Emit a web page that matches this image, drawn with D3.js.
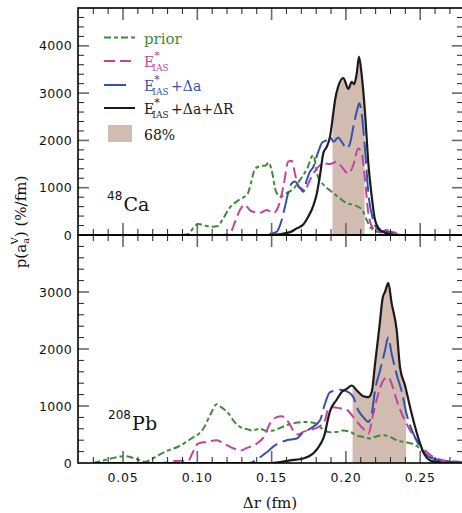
<!DOCTYPE html>
<html>
<head>
<meta charset="utf-8">
<script src="https://cdn.jsdelivr.net/npm/d3@7/dist/d3.min.js"></script>
<style>
  html, body { margin: 0; padding: 0; background: #fff; }
  svg { display: block; }
</style>
</head>
<body>
<svg id="chart" width="462" height="513"></svg>
<script>
// ---- 48Ca panel: probability density p(a_a^V) in %/fm vs Δr (fm) ----
const caPrior = [[0.090,0],[0.094,20],[0.098,180],[0.101,230],[0.105,200],[0.109,175],[0.114,190],[0.117,330],
  [0.122,585],[0.128,740],[0.134,880],[0.136,1090],[0.139,1410],[0.143,1460],[0.146,1470],[0.148,1530],
  [0.150,1375],[0.153,915],[0.156,810],[0.160,880],[0.165,990],[0.169,1160],[0.174,1410],[0.178,1690],
  [0.181,1250],[0.185,1060],[0.189,950],[0.195,800],[0.200,680],[0.206,630],[0.211,530],[0.214,317],
  [0.217,140],[0.221,70],[0.228,35],[0.233,0]];
const caIAS = [[0.092,0],[0.116,0],[0.120,10],[0.122,35],[0.1254,280],[0.1287,530],[0.1320,640],[0.1355,520],
  [0.1388,480],[0.1422,470],[0.1467,530],[0.1511,460],[0.1545,600],[0.1579,1020],[0.1612,1550],[0.1635,1570],
  [0.1657,1300],[0.1680,1020],[0.1703,980],[0.1725,930],[0.1747,1090],[0.1781,1300],[0.1814,1440],
  [0.1848,1515],[0.1893,1500],[0.1938,1550],[0.1972,1440],[0.2016,1300],[0.2050,1480],[0.2083,1830],
  [0.2106,1730],[0.2129,1160],[0.2151,460],[0.2184,140],[0.2230,70],[0.2275,105],[0.2319,70],[0.2353,0]];
const caIASda = [[0.092,0],[0.145,0],[0.1500,30],[0.1534,70],[0.1568,317],[0.1590,600],[0.1612,900],
  [0.1635,1090],[0.1657,1130],[0.1691,990],[0.1713,915],[0.1736,1160],[0.1758,1340],[0.1781,1440],
  [0.1803,1655],[0.1826,1865],[0.1837,1940],[0.1871,2010],[0.1893,2080],[0.1916,1970],[0.1949,2060],
  [0.1972,1970],[0.2005,1830],[0.2028,1940],[0.2050,2290],[0.2073,2610],[0.2090,2785],[0.2106,2570],
  [0.2129,1800],[0.2151,880],[0.2184,317],[0.2218,105],[0.2252,70],[0.2297,70],[0.2342,0]];
const caFull = [[0.092,0],[0.150,0],[0.1624,60],[0.1669,140],[0.1713,220],[0.1747,390],[0.1781,620],
  [0.1803,860],[0.1826,1270],[0.1848,1730],[0.1871,1865],[0.1893,2080],[0.1916,2600],[0.1927,2855],
  [0.1949,3150],[0.1983,3320],[0.2016,3090],[0.2039,3240],[0.2055,3190],[0.2073,3420],[0.2088,3770],
  [0.2106,3390],[0.2129,2570],[0.2151,1515],[0.2174,810],[0.2196,317],[0.2230,105],[0.2275,35],[0.2342,0]];
const caBand = [0.191, 0.2126];

// ---- 208Pb panel ----
const pbPrior = [[0.030,0],[0.036,40],[0.042,80],[0.051,120],[0.058,80],[0.065,20],[0.070,80],[0.074,140],
  [0.080,215],[0.087,285],[0.096,430],[0.104,600],[0.109,860],[0.113,1030],[0.116,980],[0.121,870],
  [0.125,720],[0.129,630],[0.134,590],[0.137,570],[0.142,600],[0.147,560],[0.151,570],[0.157,630],
  [0.162,680],[0.168,710],[0.174,720],[0.180,690],[0.185,580],[0.189,540],[0.194,545],[0.198,570],
  [0.203,545],[0.207,485],[0.212,455],[0.216,430],[0.221,470],[0.225,485],[0.230,455],[0.234,400],
  [0.241,360],[0.247,310],[0.250,250],[0.254,135],[0.259,75],[0.266,35],[0.275,20],[0.279,0]];
const pbIAS = [[0.030,0],[0.076,0],[0.085,35],[0.094,45],[0.097,190],[0.1005,340],[0.106,370],[0.113,400],
  [0.118,340],[0.125,250],[0.130,225],[0.133,260],[0.140,340],[0.1444,445],[0.1489,690],[0.1534,805],
  [0.1568,820],[0.1612,720],[0.1646,570],[0.168,500],[0.1713,545],[0.1758,585],[0.1814,630],[0.1859,750],
  [0.1882,955],[0.1915,980],[0.196,960],[0.2005,935],[0.205,805],[0.2095,660],[0.2129,570],[0.2151,515],
  [0.2184,865],[0.2218,1215],[0.2252,1450],[0.2285,1505],[0.2308,1390],[0.2342,1100],[0.2376,865],
  [0.242,630],[0.2476,400],[0.2532,220],[0.2588,105],[0.2678,35],[0.2768,20],[0.279,0]];
const pbIASda = [[0.030,0],[0.135,0],[0.1411,80],[0.1467,190],[0.1523,310],[0.1602,400],[0.1669,430],
  [0.1703,515],[0.1758,600],[0.1826,750],[0.1859,1040],[0.1893,1245],[0.1938,1275],[0.196,1285],
  [0.2016,1245],[0.205,1155],[0.2083,925],[0.2117,805],[0.2151,720],[0.2174,865],[0.2196,1275],
  [0.223,1625],[0.2263,1975],[0.2285,2205],[0.2308,1915],[0.2342,1550],[0.2376,1250],[0.2409,850],
  [0.2454,515],[0.2499,280],[0.2544,135],[0.2611,60],[0.270,20],[0.279,0]];
const pbFull = [[0.030,0],[0.150,0],[0.1624,45],[0.1713,80],[0.1781,170],[0.1826,320],[0.1859,520],
  [0.1871,670],[0.1893,910],[0.1938,1110],[0.1972,1245],[0.2005,1300],[0.2039,1360],[0.2073,1275],
  [0.2117,1170],[0.2151,1155],[0.2174,1250],[0.2196,1740],[0.2225,2380],[0.2248,2905],[0.2263,3000],
  [0.2285,3160],[0.2308,2800],[0.2342,2325],[0.2364,1680],[0.2398,1360],[0.2432,980],[0.2465,640],
  [0.2499,340],[0.2532,135],[0.2566,45],[0.2611,20],[0.270,0]];
const pbBand = [0.2045, 0.2405];

// ---- axes ----
const xTickLabels = [0.05, 0.10, 0.15, 0.20, 0.25];
const caYTicks = [0, 1000, 2000, 3000, 4000];
const pbYTicks = [0, 1000, 2000, 3000];

const colors = { prior: "#3f8a3a", ias: "#c1449c", da: "#3352ad", full: "#1b1b1b", band: "#d2bbb1" };
const dashes = { prior: "7,3,4,3", ias: "11,5", da: "22,6", full: null };

const svg = d3.select("#chart");
const left = 78, right = 463;
const x = d3.scaleLinear().domain([0.0197, 0.2788]).range([left, right]);

const panels = [
  { id: "ca", top: 8, bottom: 235, ymax: 4800, ticks: caYTicks,
    series: [["prior", caPrior], ["ias", caIAS], ["da", caIASda], ["full", caFull]], band: caBand, full: caFull },
  { id: "pb", top: 235, bottom: 463, ymax: 4000, ticks: pbYTicks,
    series: [["prior", pbPrior], ["ias", pbIAS], ["da", pbIASda], ["full", pbFull]], band: pbBand, full: pbFull }
];

function interp(data, xv) {
  for (let i = 1; i < data.length; i++) {
    if (data[i][0] >= xv) {
      const [x0, y0] = data[i - 1], [x1, y1] = data[i];
      return y0 + (y1 - y0) * (xv - x0) / (x1 - x0);
    }
  }
  return 0;
}

const sansTick = "'DejaVu Sans', sans-serif";
const serif = "'DejaVu Serif', serif";

panels.forEach(p => {
  const y = d3.scaleLinear().domain([0, p.ymax]).range([p.bottom, p.top]);
  const g = svg.append("g");

  svg.append("clipPath").attr("id", "clip-" + p.id)
    .append("rect").attr("x", left).attr("y", p.top).attr("width", right - left).attr("height", p.bottom - p.top);
  const plot = g.append("g").attr("clip-path", `url(#clip-${p.id})`);

  // 68% credible band under the full curve
  const [a, b] = p.band;
  const bandPts = [[a, interp(p.full, a)]]
    .concat(p.full.filter(d => d[0] > a && d[0] < b))
    .concat([[b, interp(p.full, b)]]);
  plot.append("path")
    .attr("d", d3.area().x(d => x(d[0])).y0(y(0)).y1(d => y(d[1])).curve(d3.curveMonotoneX)(bandPts))
    .attr("fill", colors.band);

  const line = d3.line().x(d => x(d[0])).y(d => y(d[1])).curve(d3.curveMonotoneX);
  p.series.forEach(([key, data]) => {
    plot.append("path").attr("d", line(data))
      .attr("fill", "none").attr("stroke", colors[key])
      .attr("stroke-width", key === "full" ? 2.2 : 2)
      .attr("stroke-dasharray", dashes[key])
      .attr("stroke-linejoin", "round");
  });

  // ticks on all four sides, pointing inward
  const tg = g.append("g");
  d3.range(3, 28).forEach(i => {
    const v = i / 100, major = i % 5 === 0, len = major ? 12 : 6;
    [[p.bottom, -len], [p.top, len]].forEach(([yy, d]) => {
      tg.append("line").attr("x1", x(v)).attr("x2", x(v)).attr("y1", yy).attr("y2", yy + d)
        .attr("stroke", major ? "#6a6a6a" : "#222").attr("stroke-width", major ? 1.6 : 1);
    });
  });
  d3.range(200, p.ymax, 200).forEach(v => {
    const major = v % 1000 === 0, len = major ? 11 : 6;
    [[left, len], [right, -len]].forEach(([xx, d]) => {
      tg.append("line").attr("x1", xx).attr("x2", xx + d).attr("y1", y(v)).attr("y2", y(v))
        .attr("stroke", major ? "#6a6a6a" : "#222").attr("stroke-width", major ? 1.6 : 1);
    });
  });

  // y tick labels
  p.ticks.forEach(v => {
    g.append("text").attr("x", 72).attr("y", y(v) + 4.5)
      .attr("text-anchor", "end").attr("font-family", sansTick).attr("font-size", 12.5)
      .attr("letter-spacing", 0.3).attr("fill", "#111").text(v);
  });

  // frame
  g.append("rect").attr("x", left).attr("y", p.top).attr("width", right - left).attr("height", p.bottom - p.top)
    .attr("fill", "none").attr("stroke", "#000").attr("stroke-width", 1.6);
});

// x tick labels
xTickLabels.forEach(v => {
  svg.append("text").attr("x", x(v)).attr("y", 482)
    .attr("text-anchor", "middle").attr("font-family", sansTick).attr("font-size", 12.5)
    .attr("letter-spacing", 0.8).attr("fill", "#111").text(v.toFixed(2));
});

// axis titles
svg.append("text").attr("x", 270).attr("y", 508).attr("text-anchor", "middle")
  .attr("font-family", serif).attr("font-size", 15).attr("fill", "#111").text("Δr (fm)");

const yt = svg.append("text").attr("transform", "translate(26,222) rotate(-90)")
  .attr("text-anchor", "middle").attr("font-family", serif).attr("font-size", 15).attr("fill", "#111");
yt.append("tspan").text("p(a");
yt.append("tspan").attr("font-size", 10).attr("dy", 3).text("a");
yt.append("tspan").attr("font-size", 10).attr("dx", -6.5).attr("dy", -11).text("V");
yt.append("tspan").attr("dy", 8).text(") (%/fm)");

// nucleus labels
function nucleus(xs, ys, mass, sym) {
  svg.append("text").attr("x", xs).attr("y", ys - 11).attr("font-family", sansTick)
    .attr("font-size", 12).attr("fill", "#111").text(mass);
  svg.append("text").attr("x", xs + mass.length * 7.7 + 1).attr("y", ys).attr("font-family", serif)
    .attr("font-size", 19).attr("fill", "#111").text(sym);
}
nucleus(107, 211, "48", "Ca");
nucleus(108, 430, "208", "Pb");

// legend
const legendRows = [
  { key: "prior", ly: 37.5, base: 43.5, text: "prior" },
  { key: "ias", ly: 61, base: 66.5, text: "" },
  { key: "da", ly: 85, base: 90.5, text: "+Δa" },
  { key: "full", ly: 108, base: 113.5, text: "+Δa+ΔR" }
];
const lg = svg.append("g");
legendRows.forEach(r => {
  lg.append("line").attr("x1", 104).attr("x2", r.key === "da" ? 130 : 135).attr("y1", r.ly).attr("y2", r.ly)
    .attr("stroke", colors[r.key]).attr("stroke-width", 2).attr("stroke-dasharray", dashes[r.key]);
  const c = colors[r.key];
  if (r.key === "prior") {
    lg.append("text").attr("x", 144).attr("y", r.base).attr("font-family", serif).attr("font-size", 15)
      .attr("fill", c).text("prior");
  } else {
    // E with stacked * superscript and IAS subscript, followed by the added corrections
    const t = lg.append("text").attr("x", 144).attr("y", r.base).attr("font-family", serif)
      .attr("font-size", 14).attr("fill", c);
    t.append("tspan").text("E");
    t.append("tspan").attr("font-size", 11).attr("dy", -8).text("*");
    t.append("tspan").attr("font-size", 9).attr("dx", -7.4).attr("dy", 12).text("IAS");
    if (r.text) t.append("tspan").attr("dx", 2.5).attr("dy", -4).text(r.text);
  }
});
lg.append("rect").attr("x", 108).attr("y", 125).attr("width", 24).attr("height", 17).attr("fill", colors.band);
lg.append("text").attr("x", 144).attr("y", 139.5).attr("font-family", serif).attr("font-size", 14)
  .attr("fill", "#111").text("68%");
</script>
</body>
</html>
